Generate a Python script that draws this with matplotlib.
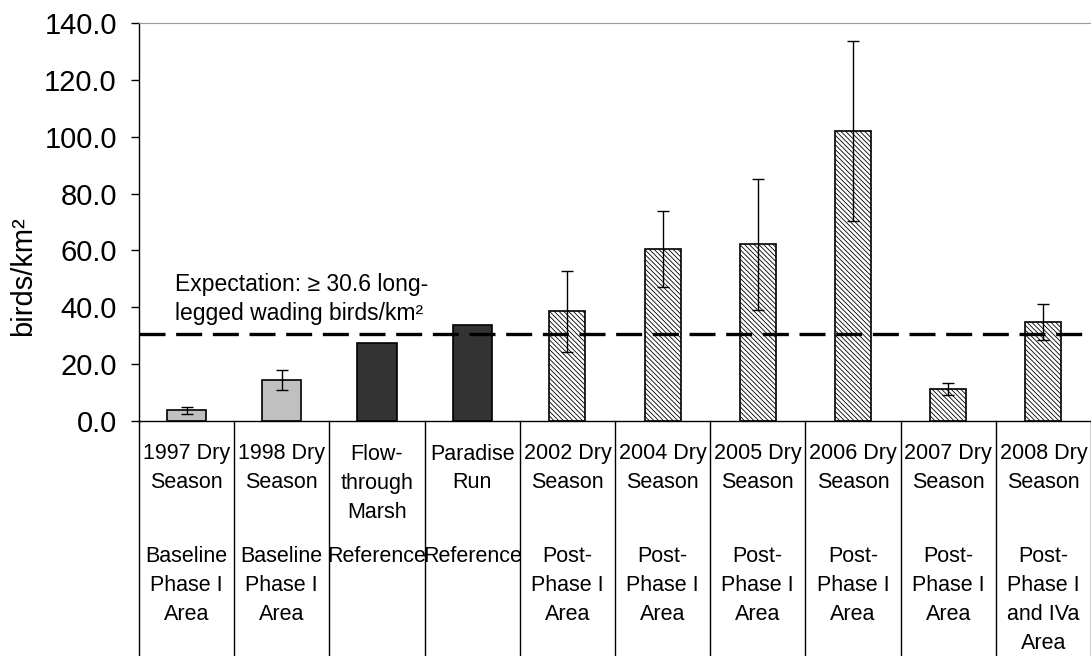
import matplotlib
matplotlib.use("Agg")
import matplotlib.pyplot as plt
import matplotlib.transforms as mtransforms
import numpy as np

# data
periods = ["1997 Dry\nSeason", "1998 Dry\nSeason", "Flow-\nthrough\nMarsh", "Paradise\nRun",
           "2002 Dry\nSeason", "2004 Dry\nSeason", "2005 Dry\nSeason", "2006 Dry\nSeason",
           "2007 Dry\nSeason", "2008 Dry\nSeason"]
areas = ["Baseline\nPhase I\nArea", "Baseline\nPhase I\nArea", "Reference", "Reference",
         "Post-\nPhase I\nArea", "Post-\nPhase I\nArea", "Post-\nPhase I\nArea",
         "Post-\nPhase I\nArea", "Post-\nPhase I\nArea", "Post-\nPhase I\nand IVa\nArea"]
density = [3.7, 14.3, 27.5, 33.8, 38.6, 60.5, 62.2, 102.0, 11.3, 34.9]
errors = [1.1, 3.5, np.nan, np.nan, 14.2, 13.4, 23.1, 31.8, 2.1, 6.3]
groups = ["baseline", "baseline", "reference", "reference",
          "post", "post", "post", "post", "post", "post"]
expectation = 30.6

plt.rcParams["font.family"] = ["Liberation Sans", "DejaVu Sans"]
plt.rcParams["hatch.linewidth"] = 0.6

fig = plt.figure(figsize=(10.91, 6.56), dpi=100)
W, H = 1091, 656
x0, x1, ytop, ybase = 139, 1091, 23, 421
ax = fig.add_axes([x0 / W, (H - ybase) / H, (x1 - x0) / W, (ybase - ytop) / H])

x = np.arange(len(density))
for i in x:
    g = groups[i]
    if g == "baseline":
        ax.bar(i, density[i], width=0.41, color="#c0c0c0", edgecolor="black", linewidth=1.2, zorder=2)
    elif g == "reference":
        ax.bar(i, density[i], width=0.41, color="#333333", edgecolor="black", linewidth=1.2, zorder=2)
    else:
        ax.bar(i, density[i], width=0.38, color="white", edgecolor="black", linewidth=1.2,
               hatch="\\" * 7, zorder=2)

ax.errorbar(x, density, yerr=errors, fmt="none", ecolor="black", elinewidth=1,
            capsize=4.5, capthick=1, zorder=3)

ax.axhline(expectation, color="black", lw=2.4, dashes=(7.8, 3.2), zorder=4)

ax.text(-0.122, 48.0, "Expectation: \u2265 30.6 long-", fontsize=16.5, ha="left", va="center")
ax.text(-0.122, 37.7, "legged wading birds/km\u00b2", fontsize=16.5, ha="left", va="center")

ax.set_xlim(-0.5, len(density) - 0.5)
ax.set_ylim(0, 140)
ax.set_yticks(np.arange(0, 141, 20))
ax.set_yticklabels([f"{v:.1f}" for v in np.arange(0, 141, 20)])
ax.tick_params(axis="y", labelsize=21, length=6, width=1, pad=10, direction="out")
ax.set_xticks([])

ax.spines["right"].set_visible(False)
ax.spines["top"].set_color("#999999")
ax.spines["left"].set_linewidth(1)
ax.spines["bottom"].set_linewidth(1)

fig.text(23 / W, 1 - 276 / H, "birds/km\u00b2", rotation=90, fontsize=21, ha="center", va="center")

# category table below the axis
blend = mtransforms.blended_transform_factory(ax.transData, ax.transAxes)
axh = ybase - ytop
for b in np.arange(-0.5, len(density), 1.0):
    ax.plot([b, b], [0, -(H - ybase) / axh - 0.01], color="black", lw=1, transform=blend, clip_on=False)

for i in x:
    for k, line in enumerate(periods[i].split("\n")):
        ypix = 454 + 29 * k
        ax.text(i, (ybase - ypix) / axh, line, transform=blend, ha="center", va="center", fontsize=15.5)
    for k, line in enumerate(areas[i].split("\n")):
        ypix = 557 + 28.7 * k
        ax.text(i, (ybase - ypix) / axh, line, transform=blend, ha="center", va="center", fontsize=15.5)

fig.savefig("out.png", dpi=100)
